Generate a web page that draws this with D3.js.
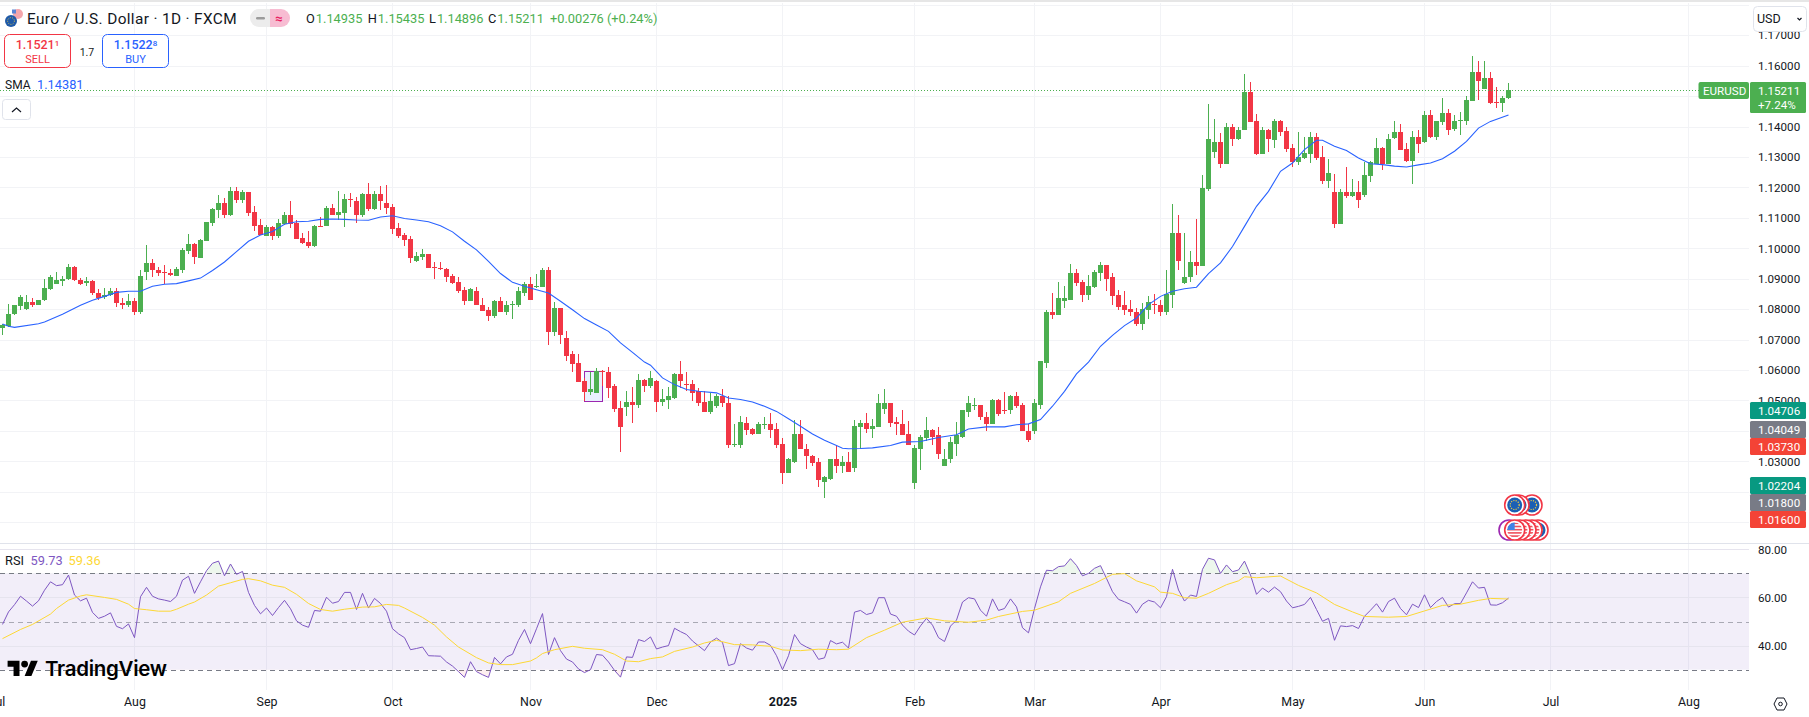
<!DOCTYPE html>
<meta charset="utf-8">
<style>
body { margin: 0; background: #fff; overflow: hidden; }
svg { display: block; }
text { font-family: Roboto, "Liberation Sans", sans-serif; fill: #131722; }
.axis text { font-size: 11.6px; fill: #131722; }
.axis .domain, .axis line { display: none; }
.timeAxis text { font-size: 12.4px; }
.tag { font-size: 11.6px; fill: #fff; }
.legend { font-size: 12.8px; }
</style>
<svg id="chart" width="1809" height="717"></svg>
<script src="https://cdnjs.cloudflare.com/ajax/libs/d3/7.8.5/d3.min.js"></script>
<script>
const barOpen = [
1.0739,1.0744,1.0783,1.0809,1.0800,1.0825,1.0813,1.0829,1.0867,1.0882,
1.0894,1.0898,1.0940,1.0897,1.0885,1.0894,1.0854,1.0839,1.0846,1.0858,
1.0821,1.0815,1.0828,1.0789,1.0921,1.0953,1.0930,1.0923,1.0920,1.0910,
1.0930,1.0992,1.1015,1.0969,1.1025,1.1084,1.1127,1.1150,1.1110,1.1189,
1.1160,1.1186,1.1120,1.1078,1.1041,1.1071,1.1041,1.1081,1.1110,1.1084,
1.1035,1.1022,1.1009,1.1074,1.1074,1.1134,1.1110,1.1117,1.1163,1.1156,
1.1110,1.1180,1.1130,1.1180,1.1150,1.1137,1.1068,1.1045,1.1032,1.0959,
1.0973,1.0982,1.0940,1.0936,1.0933,1.0910,1.0890,1.0864,1.0828,1.0861,
1.0815,1.0798,1.0779,1.0828,1.0789,1.0812,1.0815,1.0854,1.0884,1.0874,
1.0874,1.0930,1.0726,1.0805,1.0706,1.0651,1.0624,1.0565,1.0529,1.0526,
1.0598,1.0595,1.0546,1.0476,1.0480,1.0496,1.0486,1.0568,1.0549,1.0565,
1.0496,1.0503,1.0509,1.0588,1.0555,1.0555,1.0532,1.0496,1.0463,1.0483,
1.0513,1.0490,1.0352,1.0355,1.0427,1.0407,1.0391,1.0421,1.0424,1.0407,
1.0358,1.0260,1.0299,1.0391,1.0342,1.0319,1.0299,1.0233,1.0243,1.0309,
1.0286,1.0299,1.0279,1.0414,1.0427,1.0407,1.0414,1.0473,1.0493,1.0430,
1.0424,1.0391,1.0230,1.0342,1.0378,1.0404,1.0385,1.0286,1.0306,1.0358,
1.0381,1.0463,1.0483,1.0486,1.0447,1.0421,1.0503,1.0470,1.0467,1.0513,
1.0486,1.0401,1.0401,1.0486,1.0624,1.0789,1.0782,1.0828,1.0831,1.0920,
1.0890,1.0848,1.0874,1.0920,1.0946,1.0904,1.0848,1.0815,1.0802,1.0792,
1.0752,1.0798,1.0818,1.0815,1.0792,1.0848,1.1051,1.0887,1.0904,1.0956,
1.0943,1.1196,1.1317,1.1350,1.1278,1.1400,1.1360,1.1390,1.1515,1.1419,
1.1311,1.1390,1.1357,1.1419,1.1386,1.1331,1.1285,1.1298,1.1311,1.1367,
1.1301,1.1222,1.1186,1.1081,1.1186,1.1173,1.1186,1.1176,1.1239,1.1278,
1.1331,1.1278,1.1363,1.1383,1.1327,1.1288,1.1367,1.1350,1.1439,1.1367,
1.1416,1.1446,1.1393,1.1419,1.1419,1.1485,1.1580,1.1524,1.1561,1.1482,1.1478,1.14935]

const barHigh = [
1.0752,1.0818,1.0815,1.0846,1.0848,1.0835,1.0831,1.0900,1.0913,1.0923,
1.0908,1.0950,1.0943,1.0902,1.0904,1.0897,1.0867,1.0871,1.0871,1.0871,
1.0838,1.0851,1.0838,1.0930,1.1012,1.0966,1.0940,1.0946,1.0933,1.0940,
1.1002,1.1048,1.1019,1.1032,1.1087,1.1134,1.1176,1.1166,1.1202,1.1202,
1.1193,1.1186,1.1140,1.1097,1.1078,1.1074,1.1097,1.1120,1.1156,1.1094,
1.1051,1.1058,1.1078,1.1104,1.1140,1.1147,1.1189,1.1180,1.1183,1.1170,
1.1183,1.1216,1.1189,1.1206,1.1209,1.1147,1.1084,1.1051,1.1041,1.0989,
1.0999,1.0982,1.0956,1.0956,1.0936,1.0917,1.0904,1.0874,1.0871,1.0874,
1.0838,1.0808,1.0831,1.0841,1.0828,1.0828,1.0874,1.0890,1.0907,1.0917,
1.0936,1.0940,1.0825,1.0805,1.0729,1.0664,1.0654,1.0575,1.0595,1.0608,
1.0601,1.0611,1.0555,1.0499,1.0532,1.0545,1.0588,1.0572,1.0598,1.0568,
1.0536,1.0545,1.0591,1.0631,1.0595,1.0568,1.0542,1.0532,1.0526,1.0522,
1.0536,1.0513,1.0424,1.0450,1.0447,1.0411,1.0430,1.0444,1.0460,1.0427,
1.0375,1.0312,1.0437,1.0437,1.0358,1.0322,1.0312,1.0253,1.0309,1.0355,
1.0316,1.0332,1.0437,1.0437,1.0460,1.0440,1.0522,1.0536,1.0493,1.0444,
1.0470,1.0434,1.0352,1.0388,1.0444,1.0407,1.0414,1.0339,1.0381,1.0430,
1.0470,1.0516,1.0509,1.0486,1.0463,1.0506,1.0506,1.0529,1.0519,1.0529,
1.0493,1.0424,1.0506,1.0628,1.0798,1.0854,1.0890,1.0877,1.0950,1.0933,
1.0897,1.0913,1.0930,1.0956,1.0946,1.0920,1.0864,1.0861,1.0831,1.0805,
1.0821,1.0844,1.0851,1.0831,1.0927,1.1147,1.1110,1.1051,1.0992,1.1097,
1.1242,1.1475,1.1426,1.1380,1.1413,1.1409,1.1400,1.1574,1.1547,1.1442,
1.1400,1.1393,1.1426,1.1423,1.1400,1.1344,1.1383,1.1367,1.1383,1.1380,
1.1337,1.1294,1.1245,1.1196,1.1268,1.1229,1.1222,1.1285,1.1288,1.1363,
1.1334,1.1377,1.1419,1.1409,1.1347,1.1386,1.1390,1.1452,1.1455,1.1419,
1.1495,1.1459,1.1439,1.1449,1.1501,1.1633,1.1616,1.1616,1.1580,1.1531,1.1501,1.15435]

const barLow = [
1.0714,1.0740,1.0782,1.0796,1.0798,1.0808,1.0812,1.0828,1.0864,1.0881,
1.0875,1.0897,1.0894,1.0878,1.0875,1.0846,1.0829,1.0832,1.0844,1.0806,
1.0800,1.0806,1.0780,1.0783,1.0895,1.0905,1.0908,1.0884,1.0910,1.0909,
1.0918,1.0982,1.0950,1.0969,1.1025,1.1074,1.1101,1.1101,1.1107,1.1150,
1.1150,1.1107,1.1058,1.1045,1.1040,1.1028,1.1035,1.1078,1.1068,1.1032,
1.1015,1.1002,1.1005,1.1071,1.1074,1.1110,1.1094,1.1071,1.1137,1.1084,
1.1104,1.1124,1.1127,1.1127,1.1114,1.1048,1.1035,1.1009,1.0953,1.0956,
1.0963,1.0936,1.0900,1.0927,1.0890,1.0884,1.0854,1.0812,1.0828,1.0812,
1.0795,1.0762,1.0772,1.0792,1.0782,1.0769,1.0808,1.0844,1.0831,1.0871,
1.0874,1.0683,1.0713,1.0687,1.0631,1.0595,1.0559,1.0498,1.0519,1.0526,
1.0547,1.0509,1.0463,1.0332,1.0450,1.0427,1.0476,1.0529,1.0542,1.0463,
1.0483,1.0473,1.0506,1.0542,1.0532,1.0499,1.0483,1.0463,1.0454,1.0476,
1.0480,1.0345,1.0348,1.0345,1.0385,1.0385,1.0391,1.0407,1.0375,1.0345,
1.0224,1.0260,1.0296,1.0339,1.0276,1.0286,1.0214,1.0178,1.0240,1.0260,
1.0263,1.0266,1.0266,1.0342,1.0394,1.0375,1.0414,1.0457,1.0414,1.0385,
1.0388,1.0352,1.0210,1.0273,1.0368,1.0355,1.0306,1.0283,1.0293,1.0319,
1.0375,1.0447,1.0470,1.0437,1.0401,1.0421,1.0450,1.0454,1.0457,1.0476,
1.0398,1.0362,1.0391,1.0473,1.0605,1.0766,1.0782,1.0805,1.0831,1.0877,
1.0825,1.0831,1.0871,1.0894,1.0861,1.0815,1.0798,1.0782,1.0779,1.0746,
1.0733,1.0766,1.0785,1.0779,1.0782,1.0805,1.0927,1.0881,1.0890,1.0913,
1.0943,1.1189,1.1298,1.1265,1.1278,1.1337,1.1357,1.1390,1.1416,1.1308,
1.1311,1.1317,1.1331,1.1370,1.1317,1.1268,1.1275,1.1294,1.1281,1.1291,
1.1212,1.1199,1.1068,1.1081,1.1166,1.1170,1.1133,1.1170,1.1219,1.1278,
1.1258,1.1278,1.1360,1.1324,1.1285,1.1212,1.1314,1.1347,1.1363,1.1357,
1.1406,1.1373,1.1386,1.1373,1.1406,1.1485,1.1488,1.1524,1.1475,1.1462,1.1449,1.14896]

const barClose = [
1.0749,1.0785,1.0812,1.0841,1.0825,1.0812,1.0831,1.0871,1.0907,1.0897,
1.0900,1.0940,1.0895,1.0882,1.0894,1.0852,1.0838,1.0848,1.0858,1.0819,
1.0815,1.0828,1.0789,1.0910,1.0953,1.0928,1.0920,1.0920,1.0913,1.0933,
1.0995,1.1015,1.0970,1.1028,1.1087,1.1130,1.1150,1.1110,1.1189,1.1160,
1.1186,1.1117,1.1074,1.1045,1.1071,1.1041,1.1084,1.1110,1.1081,1.1032,
1.1019,1.1009,1.1074,1.1071,1.1134,1.1110,1.1120,1.1163,1.1160,1.1110,
1.1180,1.1130,1.1180,1.1156,1.1134,1.1065,1.1041,1.1028,1.0969,1.0976,
1.0982,1.0936,1.0936,1.0933,1.0907,1.0887,1.0861,1.0828,1.0867,1.0812,
1.0795,1.0779,1.0828,1.0792,1.0815,1.0818,1.0858,1.0884,1.0831,1.0877,
1.0930,1.0726,1.0805,1.0716,1.0647,1.0621,1.0562,1.0529,1.0539,1.0598,
1.0595,1.0542,1.0473,1.0414,1.0496,1.0486,1.0568,1.0549,1.0575,1.0496,
1.0506,1.0513,1.0588,1.0565,1.0552,1.0526,1.0493,1.0463,1.0499,1.0513,
1.0490,1.0352,1.0358,1.0430,1.0404,1.0391,1.0421,1.0424,1.0404,1.0355,
1.0260,1.0309,1.0391,1.0339,1.0316,1.0296,1.0240,1.0247,1.0309,1.0286,
1.0299,1.0266,1.0417,1.0427,1.0407,1.0417,1.0493,1.0493,1.0427,1.0421,
1.0388,1.0355,1.0345,1.0381,1.0404,1.0381,1.0325,1.0309,1.0362,1.0385,
1.0467,1.0490,1.0486,1.0444,1.0421,1.0503,1.0454,1.0467,1.0513,1.0483,
1.0398,1.0371,1.0490,1.0628,1.0789,1.0782,1.0835,1.0835,1.0920,1.0887,
1.0848,1.0877,1.0923,1.0946,1.0900,1.0844,1.0808,1.0798,1.0789,1.0752,
1.0802,1.0825,1.0815,1.0792,1.0851,1.1051,1.0959,1.0907,1.0956,1.0943,
1.1199,1.1360,1.1350,1.1278,1.1400,1.1360,1.1390,1.1515,1.1416,1.1311,
1.1390,1.1360,1.1419,1.1383,1.1327,1.1285,1.1301,1.1314,1.1367,1.1298,
1.1222,1.1248,1.1081,1.1186,1.1173,1.1186,1.1160,1.1242,1.1285,1.1331,
1.1278,1.1360,1.1383,1.1324,1.1288,1.1367,1.1344,1.1439,1.1367,1.1419,
1.1446,1.1390,1.1419,1.1423,1.1488,1.1580,1.1551,1.1561,1.1478,1.1478,1.1495,1.15211]

//SMA, bar index + price
const smaBar = [0,1,2,6,7,10,13,15,17,19,21,23,25,27,29,31,33,35,37,39,41,43,45,47,49,51,53,55,57,59,61,63,65,67,69,71,73,75,77,79,81,83,85,87,89,91,93,95,97,99,101,103,105,107,108,110,112,114,116,119,121,123,125,127,129,131,133,135,137,139,140,141,143,145,148,150,153,156,159,161,164,167,169,171,173,175,177,179,181,183,185,187,189,191,193,195,197,199,201,203,205,207,209,211,213,215,217,219,220,222,224,226,228,230,232,234,236,238,240,242,244,246,248,251]
const smaValue = [1.0751,1.0744,1.0740,1.0752,1.0758,1.0783,1.0813,1.0829,1.0842,1.0855,1.0859,1.0859,1.0875,1.0882,1.0884,1.0893,1.0902,1.0927,1.0955,1.0989,1.1023,1.1044,1.1055,1.1079,1.1087,1.1089,1.1095,1.1096,1.1095,1.1093,1.1092,1.1103,1.1107,1.1098,1.1093,1.1087,1.1074,1.1054,1.1023,1.0995,1.0957,1.0917,1.0888,1.0875,1.0864,1.0853,1.0826,1.0798,1.0769,1.0748,1.0727,1.0689,1.0658,1.0626,1.0616,1.0574,1.0552,1.0536,1.0530,1.0525,1.0508,1.0503,1.0495,1.0481,1.0464,1.0440,1.0415,1.0390,1.0369,1.0352,1.0343,1.0341,1.0342,1.0344,1.0352,1.0363,1.0365,1.0378,1.0387,1.0406,1.0413,1.0413,1.0420,1.0423,1.0437,1.0481,1.0530,1.0587,1.0626,1.0678,1.0714,1.0746,1.0771,1.0815,1.0842,1.0859,1.0867,1.0872,1.0917,1.0952,1.1006,1.1072,1.1138,1.1187,1.1253,1.1280,1.1324,1.1355,1.1355,1.1335,1.1321,1.1297,1.1278,1.1275,1.1270,1.1267,1.1274,1.1280,1.1294,1.1319,1.1351,1.1395,1.1417,1.14381]

const rsiValue = [
48.8,54,57,60.5,58.5,56.4,58.6,63,66.5,64.9,65.3,69.3,61,58.6,59.7,53.8,51.3,52.2,53.6,48,
47,49,43.3,60.3,64.2,60.5,59.4,58.9,58.3,60.5,67.2,68.8,61.7,66.5,71.1,74.2,75.1,69,73.9,69.6,
70.8,62.1,56.7,53.2,55.6,52.5,55.8,58.8,55.3,50.3,48.5,47.6,54.6,54.3,60.1,57.6,58.3,62.1,62.1,55,
61.7,55.6,59.6,57.5,54.3,47,44.9,43.3,38.3,38.8,39.4,35.8,35.7,35.6,33.2,31.5,29.2,26.8,33.3,29.2,
27.9,26.8,35.1,32.4,35.3,36.4,42.2,46.7,40.8,47,53.3,36.3,43.3,37.9,34.4,33.2,30.3,28.8,30,36.3,
36,33.2,29.7,26.9,35.3,35.1,42.5,41.7,43.6,38.6,39.4,40,47.2,45.8,44.6,41.9,39.9,37.9,41.5,43.1,
41.3,31.7,32.5,40.8,39,38.1,41.5,41.5,40.1,35.8,30,35.8,44.6,40.8,39.4,38.3,34.3,34.9,42.1,40.7,
41.4,39,53.9,54.6,52.9,53.6,59.9,59.9,53.1,52.2,48.5,46,44.4,48.2,51.3,48.5,43.3,41.7,48.1,50.6,
58.1,59.9,59.4,54.7,52.2,59.4,54.6,55.4,59.4,56.1,47.4,45.3,55.4,64.4,71.3,71.1,72.8,73.1,76.1,73.3,
69,70,72.1,73.2,67.9,62.4,59.2,58.2,57.1,53.5,57.2,58.8,58.1,55.7,60.3,71.7,63.1,58.5,61,60.4,
71.7,76.3,75.6,70,73.5,70.7,71.4,75.1,69.3,61.3,63.9,62.2,64.3,62.4,58.5,55.7,56.3,57.1,60,55,
50.1,51.3,42.2,48.2,47.9,48.3,47.1,52.2,54.7,57.4,53.9,58.3,59.7,55.4,52.8,57.2,55.8,61.1,55.8,58.3,
60,56,57.4,57.5,61.9,66.5,63.9,64.2,56.9,56.8,57.8,59.73]

const rsiMaBar = [0,3,5,8,9,11,13,14,17,19,21,22,24,26,28,29,31,32,34,36,38,40,41,43,45,47,49,51,53,55,57,60,62,64,66,67,70,72,74,76,79,81,83,85,88,89,90,92,95,97,100,102,104,106,108,110,112,115,117,119,122,125,128,130,133,136,139,141,144,147,150,154,157,161,164,166,170,172,176,178,182,185,187,189,192,193,195,197,199,201,204,206,207,209,213,216,219,222,225,227,231,234,237,240,243,246,248,251]
const rsiMaValue = [42.9,46.7,48.8,53.1,55.4,58.9,60.6,61.1,60,59.2,57.2,55.4,54.9,54.3,54.3,55.1,57.2,58.1,61,64.7,66.1,67.5,67.8,66.9,65.1,64.2,61.3,57.5,55,54.3,55.1,56,56.1,57.1,56.7,55.6,51.7,48.5,43.6,39.4,35,32.8,32.1,32.1,33.6,34.9,36.7,38.3,39.7,38.9,38.3,36.4,33.6,33.3,34.6,35.3,37.6,39.4,41.1,42.2,40.4,40.3,39.7,38.2,37.9,38.5,38.3,38.5,43.3,46.4,49.7,51.5,50.3,49.7,50.6,52.1,54.2,54.7,58.2,61.7,65.8,69.6,69.9,66.9,64.4,62.2,61.7,59.9,59.7,61.7,65.3,66.9,68.6,68.2,68.9,65,61.9,57.1,54,52.1,51.8,52.1,54.4,56.7,57.2,58.8,59.6,59.36]

const priceTicks = [1.01,1.02,1.03,1.04,1.05,1.06,1.07,1.08,1.09,1.10,1.11,1.12,1.13,1.14,1.15,1.16,1.17,1.18]
//the others sit behind the price tags
const priceLabels = [1.03,1.05,1.06,1.07,1.08,1.09,1.10,1.11,1.12,1.13,1.14,1.16,1.17]
const rsiTicks = [80,60,40]
const rsiBands = [70,50,30]
const monthBars = [-1,22,44,65,88,109,130,152,172,193,215,237,258,281]
const monthNames = ["Jul","Aug","Sep","Oct","Nov","Dec","2025","Feb","Mar","Apr","May","Jun","Jul","Aug"]
const tagLabels = ["1.04706","1.04049","1.03730","1.02204","1.01800","1.01600"]
const tagColors = ["#089981","#787B86","#F44336","#089981","#787B86","#F44336"]
const tagTops = [402,421,438,477,494,511]
const lastPrice = 1.15211
const rangeBars = [97,100]
const rangePrices = [1.0596,1.0497]

const green = "#4CAF50", red = "#F23645", paneRight = 1749

const x = d3.scaleLinear().domain([0,251]).range([2.5,1508.5])
const y = d3.scaleLinear().domain([1.16,1.03]).range([65.7,461.3])
const yRsi = d3.scaleLinear().domain([80,40]).range([549.3,645.6])

const svg = d3.select("#chart")

//top strip
svg.append("rect").attr("width",1809).attr("height",2).attr("fill","#e6e6e6")

//grid
svg.append("g").selectAll("line").data(priceTicks).join("line")
    .attr("x1",0).attr("x2",paneRight)
    .attr("y1",d => Math.round(y(d))+.5).attr("y2",d => Math.round(y(d))+.5)
    .attr("stroke","#f2f3f6")

svg.append("g").selectAll("line").data(monthBars).join("line")
    .attr("x1",d => Math.floor(x(d))+.5).attr("x2",d => Math.floor(x(d))+.5)
    .attr("y1",3).attr("y2",690)
    .attr("stroke","#f2f3f6")

//pane separator
svg.append("line").attr("x1",0).attr("x2",1809).attr("y1",543.5).attr("y2",543.5).attr("stroke","#e0e3eb")

//rsi pane
svg.append("rect")
    .attr("x",0).attr("width",paneRight)
    .attr("y",yRsi(70)).attr("height",yRsi(30)-yRsi(70))
    .attr("fill","#7E57C2").attr("opacity",.1)

svg.append("g").selectAll("line").data(rsiTicks).join("line")
    .attr("x1",0).attr("x2",paneRight)
    .attr("y1",d => Math.round(yRsi(d))+.5).attr("y2",d => Math.round(yRsi(d))+.5)
    .attr("stroke","#e6e4ee")

svg.append("g").selectAll("line").data(rsiBands).join("line")
    .attr("x1",0).attr("x2",paneRight)
    .attr("y1",d => Math.round(yRsi(d))+.5).attr("y2",d => Math.round(yRsi(d))+.5)
    .attr("stroke","#787B86")
    .attr("stroke-opacity",d => d === 50 ? .6 : 1)
    .attr("stroke-dasharray","5 4")

//drawn range box sits under the candles
svg.append("rect")
    .attr("x",x(rangeBars[0])).attr("width",x(rangeBars[1])-x(rangeBars[0]))
    .attr("y",Math.round(y(rangePrices[0]))+.5).attr("height",Math.round(y(rangePrices[1])-y(rangePrices[0])))
    .attr("fill","#e9f0fe").attr("stroke","#9C27B0").attr("stroke-width",1)

//candles
const bars = svg.append("g").attr("shape-rendering","crispEdges")
    .selectAll("g").data(barOpen).join("g")
    .attr("fill",(d,i) => barClose[i] >= d ? green : red)

bars.append("rect")
    .attr("x",(d,i) => x(i)-.5).attr("width",1)
    .attr("y",(d,i) => Math.round(y(barHigh[i])))
    .attr("height",(d,i) => Math.max(1,Math.round(y(barLow[i]))-Math.round(y(barHigh[i]))))

bars.append("rect")
    .attr("x",(d,i) => x(i)-2.5).attr("width",5)
    .attr("y",(d,i) => Math.round(y(Math.max(d,barClose[i]))))
    .attr("height",(d,i) => Math.max(1,Math.round(y(Math.min(d,barClose[i])))-Math.round(y(Math.max(d,barClose[i])))))

//sma
const smaLine = d3.line().x((d,i) => x(smaBar[i])).y(d => y(d))
svg.append("path").attr("d",smaLine(smaValue))
    .attr("fill","none").attr("stroke","#2962FF").attr("stroke-width",1.1)

//last price line
svg.append("line")
    .attr("x1",0).attr("x2",paneRight)
    .attr("y1",Math.round(y(lastPrice))+.5).attr("y2",Math.round(y(lastPrice))+.5)
    .attr("stroke",green).attr("stroke-dasharray","1 2")

//rsi fills beyond the bands
const rsiArea = d3.area().x((d,i) => x(i)).y1(d => yRsi(d))
svg.append("clipPath").attr("id","overClip").append("rect")
    .attr("x",0).attr("y",540).attr("width",paneRight).attr("height",yRsi(70)-540)
svg.append("clipPath").attr("id","underClip").append("rect")
    .attr("x",0).attr("y",yRsi(30)).attr("width",paneRight).attr("height",30)
svg.append("path").attr("d",rsiArea.y0(yRsi(70))(rsiValue))
    .attr("clip-path","url(#overClip)").attr("fill",green).attr("opacity",.1)
svg.append("path").attr("d",rsiArea.y0(yRsi(30))(rsiValue))
    .attr("clip-path","url(#underClip)").attr("fill",red).attr("opacity",.08)

const rsiLine = d3.line().x((d,i) => x(i)).y(d => yRsi(d))
svg.append("path").attr("d",rsiLine(rsiValue))
    .attr("fill","none").attr("stroke","#7E57C2").attr("stroke-width",1)

const rsiMaLine = d3.line().x((d,i) => x(rsiMaBar[i])).y(d => yRsi(d))
svg.append("path").attr("d",rsiMaLine(rsiMaValue))
    .attr("fill","none").attr("stroke","#FDD835").attr("stroke-width",1)

//axes
const priceAxis = d3.axisRight(y).tickValues(priceLabels).tickFormat(d3.format(".5f")).tickSize(0).tickPadding(0)
svg.append("g").attr("class","axis").attr("transform","translate(1758,0)").call(priceAxis)

const rsiAxis = d3.axisRight(yRsi).tickValues(rsiTicks).tickFormat(d3.format(".2f")).tickSize(0).tickPadding(0)
svg.append("g").attr("class","axis").attr("transform","translate(1758,0)").call(rsiAxis)

const timeAxis = d3.axisBottom(x).tickValues(monthBars)
    .tickFormat((d,i) => monthNames[i]).tickSize(0).tickPadding(0)
svg.append("g").attr("class","axis timeAxis").attr("transform","translate(0,697)").call(timeAxis)
svg.selectAll(".timeAxis text").filter(d => d === 130).attr("font-weight",700)

//price tags on the right
const tags = svg.append("g").selectAll("g").data(tagLabels).join("g")
    .attr("transform",(d,i) => `translate(1750,${tagTops[i]})`)
tags.append("rect").attr("width",56).attr("height",17).attr("rx",1.5)
    .attr("fill",(d,i) => tagColors[i])
tags.append("text").attr("class","tag").attr("x",8).attr("y",12.6).text(d => d)

svg.append("rect").attr("x",1698.5).attr("y",82).attr("width",50.5).attr("height",17).attr("rx",2).attr("fill",green)
svg.append("text").attr("class","tag").attr("x",1703).attr("y",94.6).text("EURUSD")
svg.append("rect").attr("x",1750).attr("y",82).attr("width",56).attr("height",31).attr("rx",1.5).attr("fill",green)
svg.append("text").attr("class","tag").attr("x",1758).attr("y",95).text(d3.format(".5f")(lastPrice))
svg.append("text").attr("class","tag").attr("x",1758).attr("y",109).text("+7.24%")

//currency button
svg.append("rect").attr("x",1753.5).attr("y",6.5).attr("width",53).attr("height",25).attr("rx",4)
    .attr("fill","#fff").attr("stroke","#e0e3eb")
svg.append("text").attr("x",1757).attr("y",23).attr("font-size",12.5).text("USD")
svg.append("path").attr("d","M1797.5 18l2 2 2-2").attr("fill","none").attr("stroke","#131722").attr("stroke-width",1.2)

//symbol icon
const icon = svg.append("g")
icon.append("circle").attr("cx",18).attr("cy",14).attr("r",5).attr("fill","#f4a6ac")
icon.append("rect").attr("x",12).attr("y",9.5).attr("width",4).attr("height",4).attr("fill","#5b86d6")
icon.append("circle").attr("cx",11).attr("cy",21).attr("r",6).attr("fill","#1f5aa8")
icon.append("circle").attr("cx",11).attr("cy",21).attr("r",3.4).attr("fill","none")
    .attr("stroke","#e8c547").attr("stroke-width",.9).attr("stroke-dasharray","1 1.4")

//header
svg.append("text").attr("x",27).attr("y",24).attr("font-size",15.4).attr("letter-spacing",.35).text("Euro / U.S. Dollar · 1D · FXCM")

svg.append("path").attr("d","M259 9h11v18h-11a9 9 0 0 1 0-18z").attr("fill","#ececec")
svg.append("path").attr("d","M270 9h11a9 9 0 0 1 0 18h-11z").attr("fill","#f7bcd2")
svg.append("rect").attr("x",256).attr("y",17).attr("width",9).attr("height",2.5).attr("rx",1.2).attr("fill","#9b9b9b")
svg.append("text").attr("x",275).attr("y",23).attr("font-size",13).attr("font-weight",700).style("fill","#e91e63").text("≈")

const ohlcLetters = ["O","H","L","C"]
const ohlcValues = ["1.14935","1.15435","1.14896","1.15211"]
const ohlcX = [306,367.7,429,488]
ohlcLetters.forEach((l,i) => {
  const t = svg.append("text").attr("class","legend").attr("x",ohlcX[i]).attr("y",23)
  t.append("tspan").text(l)
  t.append("tspan").attr("dx",1).style("fill",green).text(ohlcValues[i])
})
svg.append("text").attr("class","legend").attr("x",550).attr("y",23).style("fill",green).text("+0.00276 (+0.24%)")

//sell / buy buttons
function tradeButton(left,color,price,digit,label) {
  svg.append("rect").attr("x",left).attr("y",34.5).attr("width",66).attr("height",33).attr("rx",5)
      .attr("fill","#fff").attr("stroke",color)
  const t = svg.append("text").attr("x",left+33).attr("y",49).attr("text-anchor","middle")
      .attr("font-size",12.5).attr("font-weight",500).style("fill",color)
  t.append("tspan").text(price)
  t.append("tspan").attr("font-size",8).attr("dy",-3).text(digit)
  svg.append("text").attr("x",left+33).attr("y",63).attr("text-anchor","middle")
      .attr("font-size",11).style("fill",color).text(label)
}
tradeButton(4.5,red,"1.1521","1","SELL")
tradeButton(102.5,"#2962FF","1.1522","8","BUY")
svg.append("text").attr("x",87).attr("y",56).attr("text-anchor","middle").attr("font-size",10.5).text("1.7")

//indicator legends
svg.append("text").attr("class","legend").attr("x",5).attr("y",89).attr("font-size",12).style("font-size","12px").text("SMA")
svg.append("text").attr("class","legend").attr("x",37).attr("y",89).style("fill","#2962FF").text("1.14381")
svg.append("rect").attr("x",2.5).attr("y",99.5).attr("width",28).attr("height",20).attr("rx",3)
    .attr("fill","#fff").attr("stroke","#e0e3eb")
svg.append("path").attr("d","M12 112l4.5-4 4.5 4").attr("fill","none").attr("stroke","#131722").attr("stroke-width",1.2)

svg.append("text").attr("class","legend").attr("x",5).attr("y",565).text("RSI")
svg.append("text").attr("class","legend").attr("x",30.5).attr("y",565).style("fill","#7E57C2").text("59.73")
svg.append("text").attr("class","legend").attr("x",68.5).attr("y",565).style("fill","#FDD835").text("59.36")

//calendar event markers, back to front
const euMarkers = [1532,1519,1514.7]
const usMarkers = [1532,1526,1520,1514.7]

function marker(cx,cy,ring,flag) {
  const g = svg.append("g")
  g.append("circle").attr("cx",cx).attr("cy",cy).attr("r",10).attr("fill","#fff").attr("stroke",ring).attr("stroke-width",1.6)
  if (flag === "eu") {
    g.append("circle").attr("cx",cx).attr("cy",cy).attr("r",7.5).attr("fill","#1a5fb4")
    g.append("circle").attr("cx",cx).attr("cy",cy).attr("r",4.5).attr("fill","none")
        .attr("stroke","#e8c547").attr("stroke-width",1.2).attr("stroke-dasharray","1.2 1.2")
  } else {
    const id = "clip"+String(cx).replace(".","_")
    g.append("clipPath").attr("id",id).append("circle").attr("cx",cx).attr("cy",cy).attr("r",7.5)
    const f = g.append("g").attr("clip-path",`url(#${id})`)
    f.append("rect").attr("x",cx-8).attr("y",cy-8).attr("width",16).attr("height",16).attr("fill","#fff")
    d3.range(5).forEach(s => f.append("rect").attr("x",cx-8).attr("y",cy-7.5+s*3.2).attr("width",16).attr("height",1.6).attr("fill","#f0505a"))
    f.append("rect").attr("x",cx-8).attr("y",cy-8).attr("width",8).attr("height",8).attr("fill","#3f83e6")
  }
}
euMarkers.forEach(cx => marker(cx,505,red,"eu"))
svg.append("circle").attr("cx",1509).attr("cy",530).attr("r",10).attr("fill","#fff").attr("stroke","#9C27B0").attr("stroke-width",1.6)
marker(1538,530,red,"eu")
usMarkers.forEach(cx => marker(cx,530,red,"us"))

//watermark
const logo = svg.append("g").attr("transform","translate(7.6,657.3) scale(.85)")
logo.append("path").attr("d","M14 22H7V11H0V4h14v18zM28 22h-8l7.5-18h8L28 22z").attr("fill","#000")
logo.append("circle").attr("cx",20).attr("cy",8).attr("r",4).attr("fill","#000")
svg.append("text").attr("x",45).attr("y",676).attr("font-size",20.5).attr("font-weight",600)
    .style("font-family","Inter").attr("letter-spacing",-.3).style("fill","#000").text("TradingView")

//settings icon
svg.append("path").attr("d","M1774 704l3-6h7l3 6-3 6h-7z").attr("fill","none").attr("stroke","#131722")
svg.append("circle").attr("cx",1780.5).attr("cy",704).attr("r",1.8).attr("fill","none").attr("stroke","#131722")
</script>
